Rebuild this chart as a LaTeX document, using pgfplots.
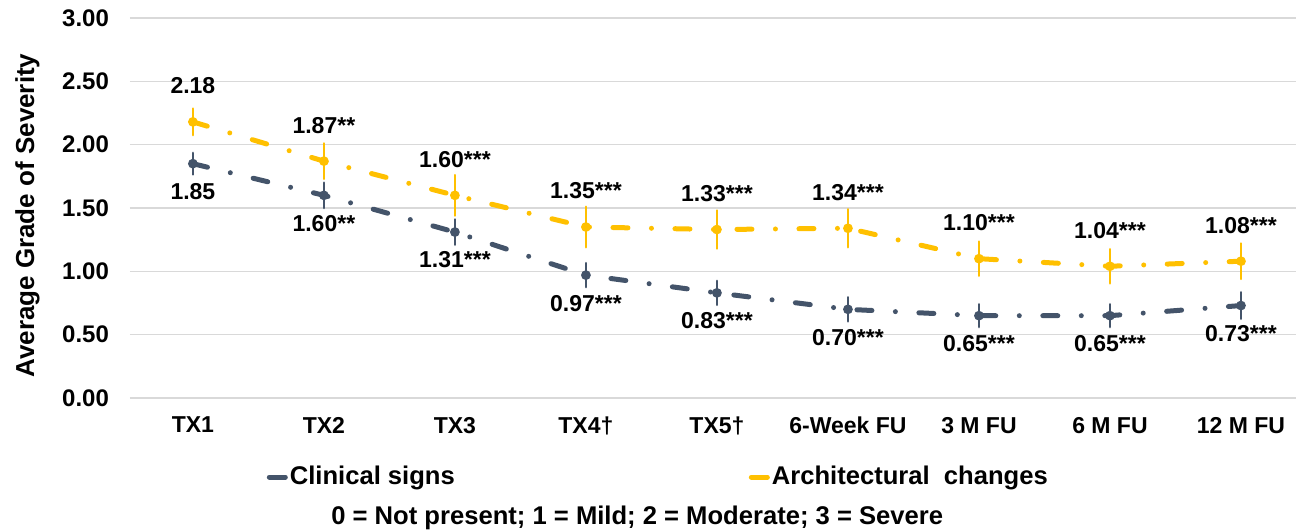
\documentclass[border=0pt]{standalone}
\usepackage{pgfplots}
\pgfplotsset{compat=1.18}
\usepackage{pgfplotstable}
\usepackage{fontspec}
\setmainfont{Liberation Sans}
\definecolor{gold}{HTML}{FFC000}
\definecolor{slate}{HTML}{44546A}
\definecolor{gridc}{HTML}{D9D9D9}

\pgfplotstableread{
x y err lab
0 1.85 0.085 1.85
1 1.60 0.10 1.60**
2 1.31 0.10 1.31***
3 0.97 0.095 0.97***
4 0.83 0.095 0.83***
5 0.70 0.095 0.70***
6 0.65 0.09 0.65***
7 0.65 0.09 0.65***
8 0.73 0.105 0.73***
}\clin

\pgfplotstableread{
x y err lab
0 2.18 0.105 2.18
1 1.87 0.14 1.87**
2 1.60 0.16 1.60***
3 1.35 0.16 1.35***
4 1.33 0.15 1.33***
5 1.34 0.15 1.34***
6 1.10 0.135 1.10***
7 1.04 0.135 1.04***
8 1.08 0.14 1.08***
}\arch

\begin{document}
\begin{tikzpicture}
\begin{axis}[
  name=ax,
  scale only axis,
  width=583pt, height=190pt,
  xmin=-0.48, xmax=8.42,
  ymin=0, ymax=3,
  ytick={0,0.5,...,3},
  xtick={0,...,8},
  xticklabels={TX1,TX2,TX3,TX4†,TX5†,6-Week FU,3 M FU,6 M FU,12 M FU},
  axis line style={draw=none},
  ymajorgrids,
  major grid style={gridc, line width=0.6pt},
  major tick length=0pt,
  tick label style={font=\fontsize{11.5}{13}\selectfont\bfseries, text=black},
  /pgf/number format/.cd, fixed, fixed zerofill, precision=2, assume math mode=true,
  /pgfplots/.cd,
  yticklabel style={xshift=-7pt, font=\fontsize{12}{13}\selectfont\bfseries},
  xticklabel style={yshift=-6pt},
  ylabel={Average Grade of Severity},
  every axis y label/.style={at={(axis description cs:-0.088,0.48)}, rotate=90, anchor=center, font=\fontsize{13}{15}\selectfont\bfseries},
  clip=false,
  legend columns=2,
  legend style={at={(rel axis cs:0.117,-0.208)}, anchor=west, draw=none, fill=none,
    font=\fontsize{12.8}{14}\selectfont\bfseries, inner sep=0pt,
    nodes={inner sep=1pt},
    /tikz/every even column/.append style={column sep=146pt}},
  legend image code/.code={\draw[line width=2.5pt, line cap=round, solid] (0pt,0pt) -- (8pt,0pt);},
  nodes near coords,
  point meta=explicit symbolic,
  every node near coord/.append style={font=\fontsize{11.5}{13}\selectfont\bfseries, text=black, anchor=center},
]
\addplot[slate, line width=2.5pt, line cap=round, dash pattern=on 7.5pt off 11.75pt on 0pt off 11.75pt,
  mark=*, mark size=1.1pt, mark options={solid},
  error bars/.cd, y dir=both, y explicit, error mark=none,
  error bar style={line width=1.3pt, solid, slate},
  /pgfplots/every node near coord/.append style={yshift=-14pt}]
  table[x=x, y=y, y error=err, meta=lab] {\clin};
\addlegendentry{Clinical signs}
\addplot[gold, line width=2.5pt, line cap=round, dash pattern=on 7.5pt off 11.75pt on 0pt off 11.75pt,
  mark=*, mark size=1.1pt, mark options={solid},
  error bars/.cd, y dir=both, y explicit, error mark=none,
  error bar style={line width=1.3pt, solid, gold},
  /pgfplots/every node near coord/.append style={yshift=18pt}]
  table[x=x, y=y, y error=err, meta=lab] {\arch};
\addlegendentry{Architectural\ \ changes}
\node[font=\fontsize{12.8}{14}\selectfont\bfseries] at (rel axis cs:0.435,-0.316) {0 = Not present; 1 = Mild; 2 = Moderate; 3 = Severe};
\end{axis}
\pgfresetboundingbox
\path[use as bounding box] ([xshift=-65pt,yshift=-66pt]ax.south west) rectangle ([yshift=9pt]ax.north east);
\end{tikzpicture}
\end{document}
